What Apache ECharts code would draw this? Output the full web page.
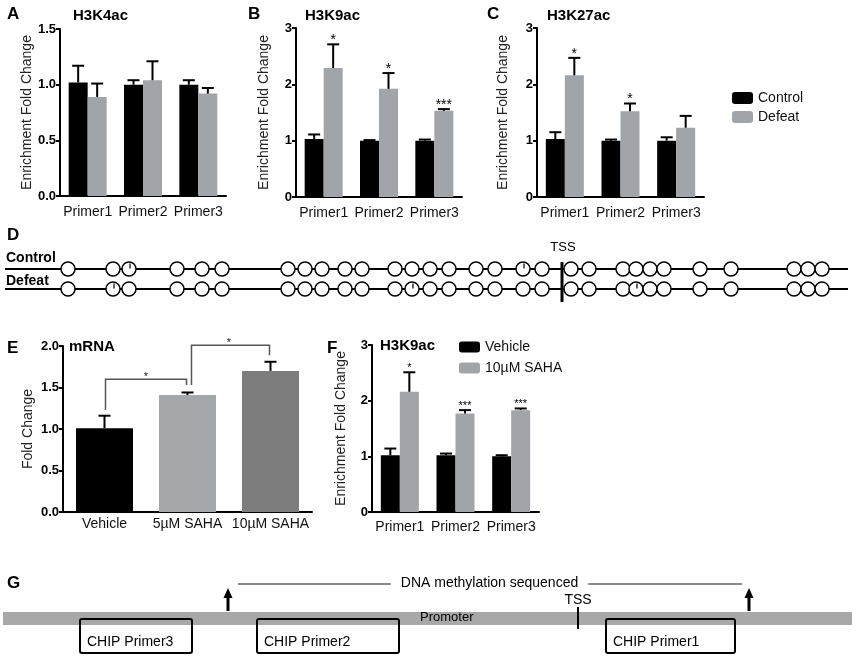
<!DOCTYPE html>
<html lang="en">
<head>
<meta charset="UTF-8">
<title>Histone acetylation figure</title>
<style>
  html, body { margin: 0; padding: 0; background: #fff; }
  #main { width: 856px; height: 660px; }
</style>
</head>
<body>
<div id="main"></div>
<script src="https://cdn.jsdelivr.net/npm/echarts@6/dist/echarts.min.js"></script>
<script>
// ---- data ----
const primers = ['Primer1', 'Primer2', 'Primer3'];

// A: H3K4ac
const aControl = [1.02, 1.00, 1.00];
const aControlSem = [0.15, 0.04, 0.04];
const aDefeat = [0.89, 1.04, 0.92];
const aDefeatSem = [0.12, 0.17, 0.05];

// B: H3K9ac
const bControl = [1.03, 1.00, 1.00];
const bControlSem = [0.08, 0.01, 0.02];
const bDefeat = [2.29, 1.92, 1.53];
const bDefeatSem = [0.42, 0.28, 0.03];
const bSig = ['*', '*', '***'];

// C: H3K27ac
const cControl = [1.03, 1.00, 1.00];
const cControlSem = [0.12, 0.02, 0.06];
const cDefeat = [2.16, 1.52, 1.23];
const cDefeatSem = [0.31, 0.14, 0.21];
const cSig = ['*', '*', ''];

// D: CpG sites along the sequenced region
const cpgPositions = [68, 113, 129, 177, 202, 222, 288, 305, 322, 345, 362, 395, 412, 430, 449,
  476, 495, 523, 542, 571, 589, 623, 636, 650, 664, 700, 731, 794, 808, 822];
const methylControl = [129, 523];
const methylDefeat = [113, 412, 636];
const sequencedSpan = [5, 848];
const tssD = 562;

// E: mRNA
const eGroups = ['Vehicle', '5µM SAHA', '10µM SAHA'];
const eValues = [1.01, 1.41, 1.70];
const eSem = [0.15, 0.03, 0.11];
const bracketFrom = [0, 1];
const bracketTo = [1, 2];
const bracketLeftBase = [1.23, 1.53];
const bracketRightBase = [1.53, 1.89];
const bracketTop = [1.60, 2.01];
const bracketSig = ['*', '*'];

// F: H3K9ac with SAHA
const fVehicle = [1.02, 1.02, 1.00];
const fVehicleSem = [0.12, 0.03, 0.02];
const fSaha = [2.16, 1.77, 1.83];
const fSahaSem = [0.35, 0.06, 0.03];
const fSig = ['*', '***', '***'];

// G: promoter map
const promoterSpan = [3, 852];
const chipNames = ['CHIP Primer3', 'CHIP Primer2', 'CHIP Primer1'];
const chipStart = [80, 257, 606];
const chipEnd = [192, 399, 735];
const methylSpan = [228, 749];
const tssG = 578;

// ---- helpers ----
const FONT = '"Liberation Sans", Arial, sans-serif';
const BLACK = '#000';
const GREY = '#a1a4a8';

function catAxis(gi, data, margin) {
  return {
    type: 'category', gridIndex: gi, data: data,
    axisLine: { lineStyle: { color: BLACK, width: 2 } },
    axisTick: { alignWithLabel: true, length: 4, lineStyle: { color: BLACK, width: 2 } },
    axisLabel: { interval: 0, fontSize: 14, color: '#111', margin: margin, fontFamily: FONT }
  };
}

function valAxis(gi, max, interval, digits, name, gap) {
  return {
    type: 'value', gridIndex: gi, min: 0, max: max, interval: interval,
    axisLine: { show: true, lineStyle: { color: BLACK, width: 2 } },
    axisTick: { show: true, length: 4, lineStyle: { color: BLACK, width: 2 } },
    splitLine: { show: false },
    axisLabel: { fontSize: 13, fontWeight: 'bold', color: BLACK, margin: 4, fontFamily: FONT,
      formatter: v => v.toFixed(digits) },
    name: name, nameLocation: 'middle', nameGap: gap,
    nameTextStyle: { fontSize: 14, color: '#222', fontFamily: FONT }
  };
}

function barSeries(gi, name, values, color, width) {
  return {
    type: 'bar', name: name, xAxisIndex: gi, yAxisIndex: gi,
    data: values, barWidth: width, barGap: '0%',
    itemStyle: { color: color }, silent: true
  };
}

function errSeries(gi, means, sems, stars, offset, starSize) {
  return {
    type: 'custom', xAxisIndex: gi, yAxisIndex: gi, z: 3, silent: true,
    encode: { x: 0, y: [1, 2] },
    data: means.map((m, i) => [i, m, m + sems[i]]),
    renderItem: function (params, api) {
      const i = params.dataIndex;
      const b = api.coord([api.value(0), api.value(1)]);
      const t = api.coord([api.value(0), api.value(2)]);
      const x = b[0] + offset;
      const kids = [
        { type: 'line', shape: { x1: x, y1: b[1], x2: x, y2: t[1] }, style: { stroke: BLACK, lineWidth: 2 } },
        { type: 'line', shape: { x1: x - 6, y1: t[1], x2: x + 6, y2: t[1] }, style: { stroke: BLACK, lineWidth: 2 } }
      ];
      if (stars && stars[i]) {
        kids.push({ type: 'text', style: { text: stars[i], x: x, y: t[1] - 4, align: 'center',
          verticalAlign: 'middle', font: starSize + 'px ' + FONT, fill: BLACK } });
      }
      return { type: 'group', children: kids };
    }
  };
}

function label(text, x, y, size, bold) {
  return { type: 'text', left: x, top: y, z: 100,
    style: { text: text, font: (bold ? 'bold ' : '') + size + 'px ' + FONT, fill: BLACK } };
}

const chart = echarts.init(document.getElementById('main'), null, { renderer: 'canvas' });

const option = {
  backgroundColor: '#fff',
  animation: false,
  grid: [
    { left: 60, top: 29, width: 166, height: 167 },   // A
    { left: 296, top: 28, width: 166, height: 169 },  // B
    { left: 537, top: 28, width: 167, height: 169 },  // C
    { left: 63, top: 346, width: 249, height: 166 },  // E
    { left: 372, top: 345, width: 167, height: 167 }, // F
    { left: 0, top: 259, width: 856, height: 40 },    // D
    { left: 0, top: 575, width: 856, height: 80 }     // G
  ],
  xAxis: [
    catAxis(0, primers, 9),
    catAxis(1, primers, 9),
    catAxis(2, primers, 9),
    catAxis(3, eGroups, 5),
    catAxis(4, primers, 8),
    { type: 'value', gridIndex: 5, min: 0, max: 856, show: false },
    { type: 'value', gridIndex: 6, min: 0, max: 856, show: false }
  ],
  yAxis: [
    valAxis(0, 1.5, 0.5, 1, 'Enrichment Fold Change', 24),
    valAxis(1, 3, 1, 0, 'Enrichment Fold Change', 25),
    valAxis(2, 3, 1, 0, 'Enrichment Fold Change', 27),
    valAxis(3, 2, 0.5, 1, 'Fold Change', 28),
    valAxis(4, 3, 1, 0, 'Enrichment Fold Change', 24),
    { type: 'category', gridIndex: 5, data: ['Control', 'Defeat'], inverse: true, show: false },
    { type: 'value', gridIndex: 6, min: 0, max: 80, show: false }
  ],
  legend: [
    { data: ['Control', 'Defeat'], orient: 'vertical', left: 727, top: 86,
      itemWidth: 21, itemHeight: 12, itemGap: 5, icon: 'roundRect', selectedMode: false,
      textStyle: { fontSize: 14, color: '#111', fontFamily: FONT } },
    { data: ['Vehicle', '10µM SAHA'], orient: 'vertical', left: 454, top: 335,
      itemWidth: 21, itemHeight: 11, itemGap: 7, icon: 'roundRect', selectedMode: false,
      textStyle: { fontSize: 14, color: '#111', fontFamily: FONT } }
  ],
  graphic: [
    label('A', 7, 6, 17, true),
    label('B', 248, 6, 17, true),
    label('C', 487, 6, 17, true),
    label('D', 7, 227, 17, true),
    label('E', 7, 340, 17, true),
    label('F', 327, 340, 17, true),
    label('G', 7, 575, 17, true),
    label('H3K4ac', 73, 8, 15, true),
    label('H3K9ac', 305, 8, 15, true),
    label('H3K27ac', 547, 8, 15, true),
    label('mRNA', 69, 339, 15, true),
    label('H3K9ac', 380, 338, 15, true),
    label('Control', 6, 251, 14, true),
    label('Defeat', 6, 274, 14, true),
    label('Promoter', 420, 611, 13, false)
  ],
  series: [
    // A
    barSeries(0, 'Control', aControl, BLACK, 19),
    barSeries(0, 'Defeat', aDefeat, GREY, 19),
    errSeries(0, aControl, aControlSem, null, -9.5, 14),
    errSeries(0, aDefeat, aDefeatSem, null, 9.5, 14),
    // B
    barSeries(1, 'Control', bControl, BLACK, 19),
    barSeries(1, 'Defeat', bDefeat, GREY, 19),
    errSeries(1, bControl, bControlSem, null, -9.5, 14),
    errSeries(1, bDefeat, bDefeatSem, bSig, 9.5, 14),
    // C
    barSeries(2, 'Control', cControl, BLACK, 19),
    barSeries(2, 'Defeat', cDefeat, GREY, 19),
    errSeries(2, cControl, cControlSem, null, -9.5, 14),
    errSeries(2, cDefeat, cDefeatSem, cSig, 9.5, 14),
    // E
    {
      type: 'bar', name: 'mRNA', xAxisIndex: 3, yAxisIndex: 3, barWidth: 57, silent: true,
      data: eValues.map((v, i) => ({ value: v, itemStyle: { color: [BLACK, '#a4a7aa', '#7d7d7d'][i] } }))
    },
    errSeries(3, eValues, eSem, null, 0, 14),
    {
      type: 'custom', xAxisIndex: 3, yAxisIndex: 3, z: 3, silent: true,
      data: bracketFrom.map((f, i) => [f, bracketTop[i]]),
      renderItem: function (params, api) {
        const i = params.dataIndex;
        const p1 = api.coord([bracketFrom[i], bracketLeftBase[i]]);
        const p2 = api.coord([bracketFrom[i], bracketTop[i]]);
        const p3 = api.coord([bracketTo[i], bracketTop[i]]);
        const p4 = api.coord([bracketTo[i], bracketRightBase[i]]);
        const dx = i === 0 ? 1 : 4;
        return { type: 'group', children: [
          { type: 'polyline', shape: { points: [[p1[0] + dx, p1[1]], [p2[0] + dx, p2[1]], [p3[0] - 1, p3[1]], [p4[0] - 1, p4[1]]] },
            style: { stroke: '#555', lineWidth: 1.5, fill: null } },
          { type: 'text', style: { text: bracketSig[i], x: (p2[0] + p3[0]) / 2, y: p2[1] - 2,
            align: 'center', verticalAlign: 'middle', font: '11px ' + FONT, fill: '#222' } }
        ] };
      }
    },
    // F
    barSeries(4, 'Vehicle', fVehicle, BLACK, 19),
    barSeries(4, '10µM SAHA', fSaha, GREY, 19),
    errSeries(4, fVehicle, fVehicleSem, null, -9.5, 11),
    errSeries(4, fSaha, fSahaSem, fSig, 9.5, 11),
    // D: strands, CpG circles, methylated ticks, TSS
    ...['Control', 'Defeat'].map(row => ({
      type: 'line', xAxisIndex: 5, yAxisIndex: 5, symbol: 'none', silent: true, z: 1,
      data: [[sequencedSpan[0], row], [sequencedSpan[1], row]],
      lineStyle: { color: BLACK, width: 2 }
    })),
    {
      type: 'scatter', xAxisIndex: 5, yAxisIndex: 5, symbol: 'circle', symbolSize: 14, silent: true, z: 2,
      data: cpgPositions.flatMap(p => [[p, 'Control'], [p, 'Defeat']]),
      itemStyle: { color: '#fff', borderColor: BLACK, borderWidth: 1.5, opacity: 1 }
    },
    {
      type: 'scatter', xAxisIndex: 5, yAxisIndex: 5, symbol: 'rect', symbolSize: [1.5, 5],
      symbolOffset: [1, -3], silent: true, z: 3,
      data: methylControl.map(p => [p, 'Control']).concat(methylDefeat.map(p => [p, 'Defeat'])),
      itemStyle: { color: BLACK }
    },
    {
      type: 'custom', xAxisIndex: 5, yAxisIndex: 5, z: 4, silent: true,
      data: [[tssD, 'Control']],
      renderItem: function (params, api) {
        const x = api.coord([api.value(0), 0])[0];
        const cs = params.coordSys;
        return { type: 'group', children: [
          { type: 'line', shape: { x1: x, y1: cs.y + 3, x2: x, y2: cs.y + cs.height + 3 },
            style: { stroke: BLACK, lineWidth: 3 } },
          { type: 'text', style: { text: 'TSS', x: x + 1, y: cs.y - 12, align: 'center',
            verticalAlign: 'middle', font: '13px ' + FONT, fill: BLACK } }
        ] };
      }
    },
    // G: promoter bar
    {
      type: 'custom', xAxisIndex: 6, yAxisIndex: 6, z: 1, silent: true,
      data: [promoterSpan],
      renderItem: function (params, api) {
        const x0 = api.coord([api.value(0), 0])[0];
        const x1 = api.coord([api.value(1), 0])[0];
        const y = params.coordSys.y;
        return { type: 'rect', shape: { x: x0, y: y + 37, width: x1 - x0, height: 13 },
          style: { fill: '#a8a8a8' } };
      }
    },
    // G: ChIP primer boxes
    {
      type: 'custom', xAxisIndex: 6, yAxisIndex: 6, z: 2, silent: true,
      data: chipStart.map((s, i) => [s, chipEnd[i]]),
      renderItem: function (params, api) {
        const x0 = api.coord([api.value(0), 0])[0];
        const x1 = api.coord([api.value(1), 0])[0];
        const y = params.coordSys.y;
        return { type: 'group', children: [
          { type: 'rect', shape: { x: x0, y: y + 44, width: x1 - x0, height: 34, r: 2 },
            style: { fill: null, stroke: BLACK, lineWidth: 2 } },
          { type: 'text', style: { text: chipNames[params.dataIndex], x: x0 + 7, y: y + 67,
            verticalAlign: 'middle', font: '14px ' + FONT, fill: BLACK } }
        ] };
      }
    },
    // G: methylation-sequenced span with arrows
    {
      type: 'custom', xAxisIndex: 6, yAxisIndex: 6, z: 3, silent: true,
      data: [methylSpan],
      renderItem: function (params, api) {
        const x0 = api.coord([api.value(0), 0])[0];
        const x1 = api.coord([api.value(1), 0])[0];
        const y = params.coordSys.y;
        const arrow = x => [
          { type: 'line', shape: { x1: x, y1: y + 36, x2: x, y2: y + 21 }, style: { stroke: BLACK, lineWidth: 3 } },
          { type: 'polygon', shape: { points: [[x, y + 13], [x - 4.5, y + 23], [x + 4.5, y + 23]] }, style: { fill: BLACK } }
        ];
        return { type: 'group', children: [
          { type: 'line', shape: { x1: x0 + 10, y1: y + 9, x2: x1 - 7, y2: y + 9 }, style: { stroke: '#8a8a8a', lineWidth: 2 } },
          { type: 'text', style: { text: 'DNA methylation sequenced', x: (x0 + x1) / 2 + 1, y: y + 8,
            align: 'center', verticalAlign: 'middle', font: '14px ' + FONT, fill: BLACK,
            backgroundColor: '#fff', padding: [0, 10] } },
          ...arrow(x0), ...arrow(x1)
        ] };
      }
    },
    // G: TSS
    {
      type: 'custom', xAxisIndex: 6, yAxisIndex: 6, z: 4, silent: true,
      data: [[tssG]],
      renderItem: function (params, api) {
        const x = api.coord([api.value(0), 0])[0];
        const y = params.coordSys.y;
        return { type: 'group', children: [
          { type: 'line', shape: { x1: x, y1: y + 32, x2: x, y2: y + 54 }, style: { stroke: BLACK, lineWidth: 2 } },
          { type: 'text', style: { text: 'TSS', x: x, y: y + 25, align: 'center', verticalAlign: 'middle',
            font: '14px ' + FONT, fill: BLACK } }
        ] };
      }
    }
  ]
};

chart.setOption(option);

window.onresize = function () {
  chart.resize();
};
</script>
</body>
</html>
